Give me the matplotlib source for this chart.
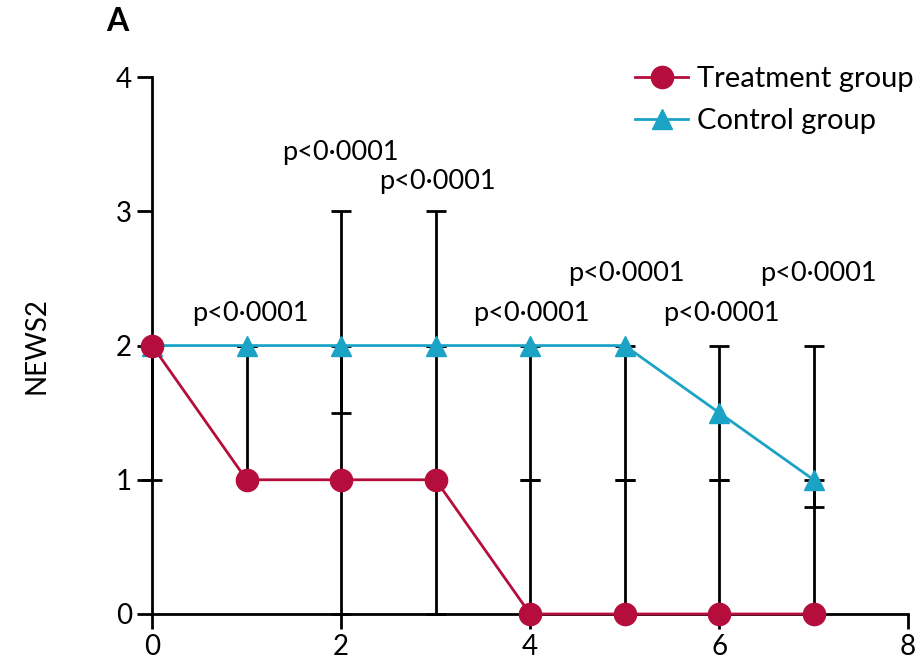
import matplotlib
matplotlib.use("Agg")
from matplotlib import pyplot as plt

plt.rcParams['font.family'] = ['Lato', 'DejaVu Sans']

days = [0, 1, 2, 3, 4, 5, 6, 7]

treat_median = [2, 1, 1, 1, 0, 0, 0, 0]
treat_low = [1, 1, 0, 0, 0, 0, 0, 0]
treat_high = [2, 2, 2, 2, 1, 1, 1, 1]

ctrl_median = [2, 2, 2, 2, 2, 2, 1.5, 1]
ctrl_low = [2, 2, 1.5, 2, 1, 1, 1, 0.8]
ctrl_high = [2, 2, 3, 3, 2, 2, 2, 2]

p_labels = ["p<0\u00b70001"] * 7
p_x = [1.04, 1.99, 3.02, 4.01, 5.02, 6.02, 7.05]
p_y = [2.24, 3.44, 3.22, 2.24, 2.54, 2.24, 2.54]

red = '#B50D3C'
blue = '#1BA3C6'

fig = plt.figure(figsize=(9.22, 6.65), dpi=100)
ax = fig.add_axes([0.165, 0.0767, 0.82, 0.8073])

# error bars (black, drawn under the lines)
t_err = [[m - lo for m, lo in zip(treat_median, treat_low)],
         [hi - m for m, hi in zip(treat_median, treat_high)]]
c_err = [[m - lo for m, lo in zip(ctrl_median, ctrl_low)],
         [hi - m for m, hi in zip(ctrl_median, ctrl_high)]]
ax.errorbar(days, treat_median, yerr=t_err, fmt='none', ecolor='black',
            elinewidth=2, capsize=7.5, capthick=2, zorder=2, clip_on=False)
ax.errorbar(days, ctrl_median, yerr=c_err, fmt='none', ecolor='black',
            elinewidth=2, capsize=7.5, capthick=2, zorder=2, clip_on=False)

ax.plot(days, ctrl_median, color=blue, lw=2, marker='^', markersize=15,
        label='Control group', zorder=3, clip_on=False)
ax.plot(days, treat_median, color=red, lw=2, marker='o', markersize=16,
        label='Treatment group', zorder=4, clip_on=False)

for txt, x, y in zip(p_labels, p_x, p_y):
    ax.text(x, y, txt, ha='center', va='center', fontsize=19.5)

ax.set_xlim(0, 8)
ax.set_ylim(0, 4)
ax.set_xticks([0, 2, 4, 6, 8])
ax.set_yticks([0, 1, 2, 3, 4])
ax.spines['top'].set_visible(False)
ax.spines['right'].set_visible(False)
ax.spines['left'].set_linewidth(2)
ax.spines['bottom'].set_linewidth(2)
ax.tick_params(width=2, length=11, labelsize=20)
ax.set_ylabel('NEWS2', fontsize=20, labelpad=48)

handles, labels = ax.get_legend_handles_labels()
ax.legend(handles[::-1], labels[::-1], loc='upper right',
          bbox_to_anchor=(1.022, 1.043), frameon=False, fontsize=21,
          handlelength=1.8, handletextpad=0.3, labelspacing=0.55,
          borderaxespad=0)

fig.text(0.127, 0.967, 'A', fontsize=23, fontweight='bold',
         ha='center', va='center')

fig.savefig('out.png', dpi=100)
